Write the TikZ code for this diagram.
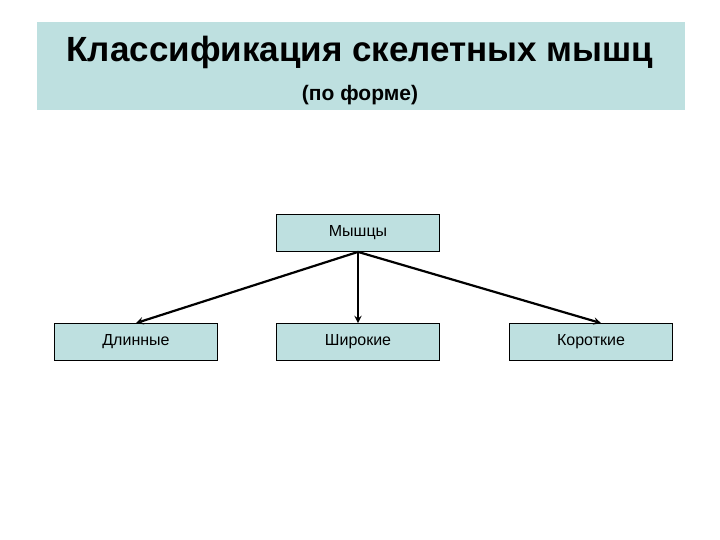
\documentclass[tikz,border=0pt]{standalone}
\usepackage{fontspec}
\setmainfont{Liberation Sans}
\begin{document}
\begin{tikzpicture}[x=1pt,y=-1pt,
  box/.style={draw=black,line width=0.8pt,fill=teal0,minimum width=163pt,minimum height=37pt,inner sep=0pt,font=\fontsize{16}{20}\selectfont},
  arr/.style={-stealth,line width=2.2pt}]
\definecolor{teal0}{HTML}{BEE0E0}
\useasboundingbox (0,0) rectangle (720,540);
\fill[teal0] (37,22) rectangle (685,110);
\node[font=\bfseries\fontsize{35}{40}\selectfont] (t) at (360,52) {Классификация скелетных мышц};
\node[font=\bfseries\fontsize{21}{26}\selectfont] (s) at (360,95) {(по форме)};
\node[box] (m) at (358,233) {Мышцы};
\node[box] (a) at (136,342) {Длинные};
\node[box] (b) at (358,342) {Широкие};
\node[box] (c) at (591,342) {Короткие};
\coordinate (o) at (m.south);
\draw[arr] (o) -- (a.north);
\draw[arr] (o) -- (b.north);
\draw[arr] (o) -- ([xshift=10pt]c.north);
\end{tikzpicture}
\end{document}
